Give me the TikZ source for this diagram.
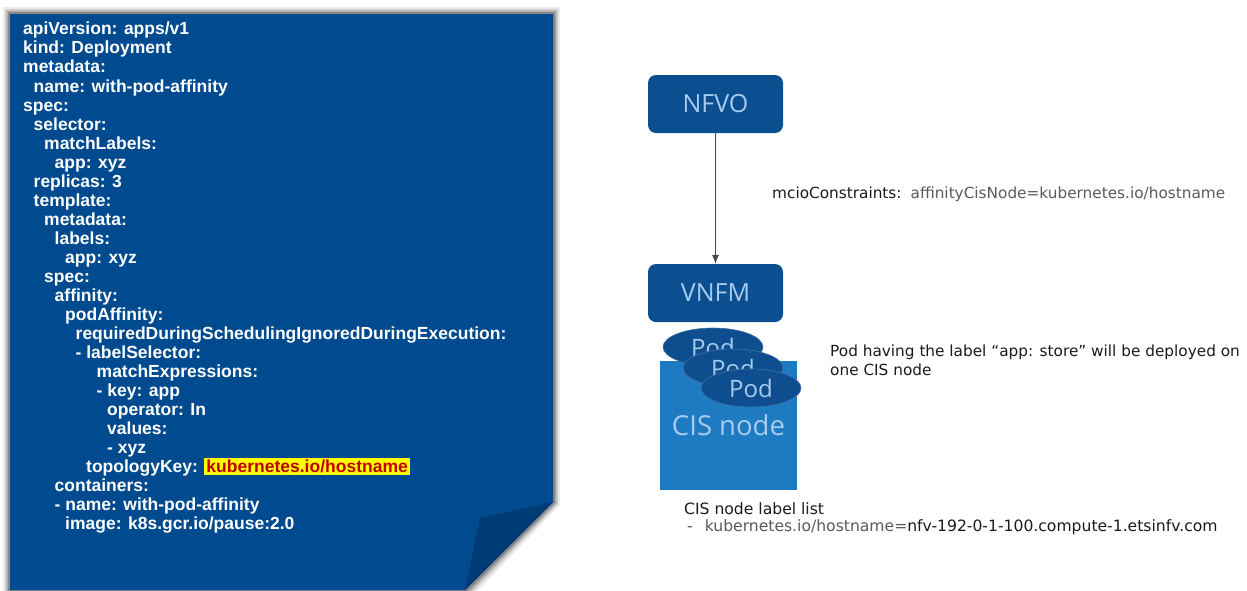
\documentclass[tikz,border=0pt]{standalone}
\usepackage{fontspec}
\setmainfont{Liberation Sans}
\newfontfamily\uifont{Open Sans}
\newfontfamily\labelfont{DejaVu Sans}
\usetikzlibrary{arrows.meta,shapes.geometric}
\definecolor{docblue}{HTML}{004A8F}
\definecolor{folddark}{HTML}{003B75}
\definecolor{boxblue}{HTML}{0B4F90}
\definecolor{cisblue}{HTML}{1F7BC1}
\definecolor{podblue}{HTML}{0E4D8E}
\definecolor{lighttext}{HTML}{A6CBEE}
\definecolor{hlred}{HTML}{C00000}
\definecolor{hlyellow}{HTML}{FFFF00}
\definecolor{greytext}{HTML}{5A5A5A}
\definecolor{darktext}{HTML}{1A1A1A}
\newcommand{\ind}[1]{\hspace*{\fpeval{10.5*#1}pt}}
\tikzset{
  mgrbox/.style={fill=boxblue, rounded corners=8pt, minimum width=135pt, minimum height=58pt,
    text=lighttext, font=\uifont\fontsize{25}{28}\selectfont, inner sep=0pt},
  podell/.style={ellipse, fill=podblue, draw=podblue!80!white, line width=0.6pt,
    minimum width=100pt, minimum height=38pt, inner sep=0pt,
    text=lighttext, font=\uifont\fontsize{24}{26}\selectfont},
  lbl/.style={font=\labelfont\fontsize{15.3}{19}\selectfont, text=darktext, inner sep=0pt}
}
\begin{document}
\begin{tikzpicture}[x=1pt,y=-1pt]
\useasboundingbox (0,0) rectangle (1247,590);
% shadow of document
\foreach \s/\o in {7/0.08,5/0.12,3.5/0.16,2/0.22}{
  \fill[black,opacity=\o] (10-\s,14-\s) -- (553+\s,14-\s) -- (553+\s,502+0.4*\s) -- (465+\s,590+\s) -- (10-\s,590+\s) -- cycle;
}
% document
\fill[docblue] (10,14) -- (553,14) -- (553,502) -- (465,590) -- (10,590) -- cycle;
\fill[folddark] (553,502) -- (480,518) -- (465,590) -- cycle;
\node[anchor=north west, inner sep=0pt, text=white, align=left,
  font=\bfseries\fontsize{17.5}{19.04}\selectfont] (code) at (23,22) {%
apiVersion: apps/v1\\
kind: Deployment\\
metadata:\\
\ind{1}name: with-pod-affinity\\
spec:\\
\ind{1}selector:\\
\ind{2}matchLabels:\\
\ind{3}app: xyz\\
\ind{1}replicas: 3\\
\ind{1}template:\\
\ind{2}metadata:\\
\ind{3}labels:\\
\ind{4}app: xyz\\
\ind{2}spec:\\
\ind{3}affinity:\\
\ind{4}podAffinity:\\
\ind{5}requiredDuringSchedulingIgnoredDuringExecution:\\
\ind{5}- labelSelector:\\
\ind{7}matchExpressions:\\
\ind{7}- key: app\\
\ind{8}operator: In\\
\ind{8}values:\\
\ind{8}- xyz\\
\ind{6}topologyKey: {\setlength{\fboxsep}{2pt}\smash{\colorbox{hlyellow}{\textcolor{hlred}{kubernetes.io/hostname}}}}\\
\ind{3}containers:\\
\ind{3}- name: with-pod-affinity\\
\ind{4}image: k8s.gcr.io/pause:2.0};
% right side
\node[mgrbox] (nfvo) at (715.5,104) {NFVO};
\node[mgrbox] (vnfm) at (715.5,293) {VNFM};
\draw[line width=0.8pt, draw=darktext!80, -{Latex[length=9pt,width=7pt]}] (nfvo) -- (vnfm);
\node[fill=cisblue, minimum width=137pt, minimum height=129pt, inner sep=0pt,
  text=lighttext, font=\uifont\fontsize{27.5}{30}\selectfont] (cis) at (728.5,425.5) {CIS node};
\node[podell] (pod1) at (713,347) {Pod};
\node[podell] (pod2) at (733,368) {Pod};
\node[podell] (pod3) at (751,388) {Pod};
\node[lbl, anchor=base west] (mcio) at (772,198) {mcioConstraints:\, \textcolor{greytext}{affinityCisNode=kubernetes.io/hostname}};
\node[lbl, anchor=north west, align=left] (podnote) at (830,345) {Pod having the label “app: store” will be deployed on\\one CIS node};
\node[lbl, anchor=north west, align=left, font=\labelfont\fontsize{15.6}{17.5}\selectfont] (cislist) at (684,502) {CIS node label list\\\textcolor{greytext}{\hspace*{3pt}-\hspace*{12pt}kubernetes.io/hostname=}nfv-192-0-1-100.compute-1.etsinfv.com};
\end{tikzpicture}
\end{document}
